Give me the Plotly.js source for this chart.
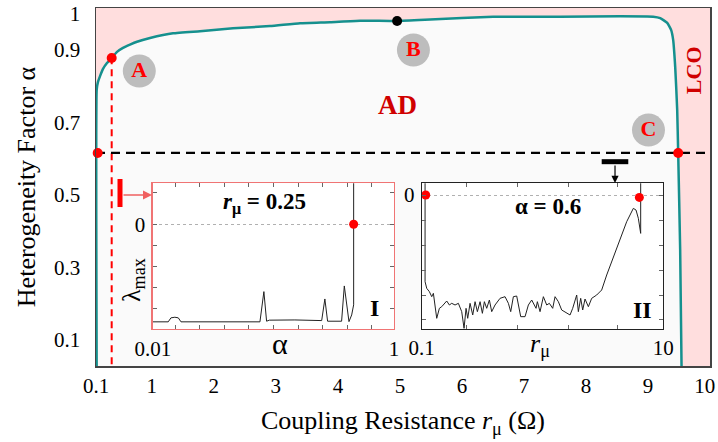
<!DOCTYPE html>
<html><head><meta charset="utf-8">
<script src="https://cdn.plot.ly/plotly-3.0.1.min.js"></script>
<style>html,body{margin:0;padding:0;background:#fff}</style>
</head><body><div id="chart" style="width:718px;height:442px"></div>
<script>
// ---- Main diagram: AD / LCO boundary (coupling resistance r_mu, heterogeneity alpha)
const boundaryR = [0.111, 0.111, 0.132, 0.165, 0.213, 0.277, 0.353, 0.439, 0.535, 0.648, 0.761, 0.971, 1.342, 1.777, 2.310, 2.906, 3.390, 3.874, 4.358, 4.955, 5.487, 6.503, 7.584, 8.552, 9.084, 9.197, 9.310, 9.374, 9.406, 9.439, 9.471, 9.487, 9.519, 9.543];
const boundaryAlpha = [0.0, 0.790, 0.812, 0.828, 0.848, 0.864, 0.878, 0.895, 0.906, 0.915, 0.923, 0.933, 0.946, 0.952, 0.960, 0.966, 0.974, 0.977, 0.981, 0.980, 0.984, 0.992, 0.992, 0.993, 0.992, 0.988, 0.975, 0.955, 0.928, 0.853, 0.735, 0.616, 0.348, 0.0];
const xTickVals = [0.1, 1, 2, 3, 4, 5, 6, 7, 8, 9, 10];
const xTickText = ['0.1', '1', '2', '3', '4', '5', '6', '7', '8', '9', '10\u00a0\u00a0'];
const yTickVals = [0.1, 0.3, 0.5, 0.7, 0.9, 1];
const yTickText = ['0.1', '0.3', '0.5', '0.7', '0.9', '1'];

// cuts
const cutR = [0.353, 0.353];          // r_mu = 0.25 cut (vertical)
const cutRAlpha = [0, 0.878];
const cutAlphaR = [0.1, 10];          // alpha = 0.6 cut (horizontal)
const cutAlpha = [0.616, 0.616];

// special points
const redPointR = [0.353, 0.127, 9.487];
const redPointAlpha = [0.878, 0.616, 0.616];
const blackPointR = [4.955];
const blackPointAlpha = [0.980];
const labelNames = ['A', 'B', 'C'];
const labelR = [0.798, 5.218, 9.008];
const labelAlpha = [0.842, 0.900, 0.679];

// ---- Inset I: lambda_max vs alpha at r_mu = 0.25
const inset1Alpha = [0.01, 0.072, 0.083, 0.099, 0.113, 0.124, 0.445, 0.461, 0.472, 0.483, 0.587, 0.696, 0.709, 0.720, 0.777, 0.788, 0.807, 0.818, 0.826, 0.826];
const inset1Lambda = [-4.65, -4.65, -4.46, -4.43, -4.46, -4.65, -4.65, -3.21, -4.62, -4.57, -4.56, -4.59, -3.56, -4.62, -4.62, -2.94, -4.64, -4.32, -3.84, 2.5];
const inset1DotAlpha = [0.826];
const inset1DotLambda = [0];

// ---- Inset II: lambda_max vs r_mu at alpha = 0.6
const inset2R = [0.1066, 0.1066, 0.1100, 0.1157, 0.1210, 0.1249, 0.1331, 0.1400, 0.1464, 0.1560, 0.1610, 0.1694, 0.1771, 0.1888, 0.2011, 0.2143, 0.2241, 0.2328, 0.2403, 0.2513, 0.2644, 0.2764, 0.2890, 0.3041, 0.3178, 0.3302, 0.3452, 0.3632, 0.3797, 0.4046, 0.4451, 0.4896, 0.5218, 0.5454, 0.5738, 0.6114, 0.6600, 0.7168, 0.7638, 0.8140, 0.8841, 0.9068, 0.9541, 1.0167, 1.0834, 1.1397, 1.2145, 1.2702, 1.3532, 1.4417, 1.5860, 1.6903, 1.7783, 1.8591, 1.9192, 1.9812, 2.0712, 2.1518, 2.2496, 2.3977, 2.5549, 2.8101, 3.0910, 3.4007, 4.1136, 4.9774, 5.6508, 5.9467, 6.2170, 6.5003, 6.5003];
const inset2Lambda = [1.0, -3.467, -3.733, -3.867, -4.067, -3.933, -4.933, -4.533, -4.467, -4.333, -4.24, -4.4, -4.333, -4.4, -4.333, -4.667, -5.333, -4.533, -4.933, -4.333, -4.8, -4.267, -4.667, -4.267, -4.733, -4.267, -4.533, -4.2, -4.667, -4.4, -4.133, -4.067, -4.333, -4.667, -4.067, -4.04, -4.867, -4.867, -4.4, -4.2, -4.533, -4.267, -4.667, -4.067, -4.4, -4.333, -4.533, -4.067, -4.267, -4.6, -4.733, -4.8, -4.533, -4.267, -4.0, -4.667, -4.133, -4.6, -4.16, -4.467, -4.133, -4.0, -3.8, -3.2, -2.133, -1.067, -0.533, -0.6, -0.933, -1.533, 1.0];
const inset2DotR = [0.1079, 6.337];
const inset2DotLambda = [0, -0.093];

const FONT = 'Liberation Serif, Times New Roman, serif';
const TEAL = '#15908e';
const RED = '#ff0000';
const DARKRED = '#d00000';

const traces = [
  {x: boundaryR, y: boundaryAlpha, type: 'scatter', mode: 'lines', fill: 'toself', fillcolor: '#fafafa',
   line: {color: TEAL, width: 2.5, shape: 'spline', smoothing: 0.4}, xaxis: 'x', yaxis: 'y', hoverinfo: 'skip'},
  {x: cutR, y: cutRAlpha, type: 'scatter', mode: 'lines', line: {color: RED, width: 2, dash: '7px,5px'}, xaxis: 'x', yaxis: 'y'},
  {x: cutAlphaR, y: cutAlpha, type: 'scatter', mode: 'lines', line: {color: '#000', width: 2.2, dash: '9px,6px'}, xaxis: 'x', yaxis: 'y'},
  {x: redPointR, y: redPointAlpha, type: 'scatter', mode: 'markers', marker: {color: RED, size: 10}, xaxis: 'x', yaxis: 'y', cliponaxis: false},
  {x: blackPointR, y: blackPointAlpha, type: 'scatter', mode: 'markers', marker: {color: '#000', size: 10}, xaxis: 'x', yaxis: 'y'},
  {x: labelR, y: labelAlpha, text: labelNames.map(s => '<b>' + s + '</b>'), type: 'scatter', mode: 'markers+text',
   marker: {color: '#bdbdbd', size: 33}, textposition: 'middle center', textfont: {family: FONT, size: 22, color: RED}, xaxis: 'x', yaxis: 'y'},
  // Inset I
  {x: inset1Alpha, y: inset1Lambda, type: 'scatter', mode: 'lines', line: {color: '#222', width: 1}, xaxis: 'x2', yaxis: 'y2'},
  {x: inset1DotAlpha, y: inset1DotLambda, type: 'scatter', mode: 'markers', marker: {color: RED, size: 9}, xaxis: 'x2', yaxis: 'y2'},
  // Inset II
  {x: inset2R, y: inset2Lambda, type: 'scatter', mode: 'lines', line: {color: '#222', width: 1}, xaxis: 'x3', yaxis: 'y3'},
  {x: inset2DotR, y: inset2DotLambda, type: 'scatter', mode: 'markers', marker: {color: RED, size: 9}, xaxis: 'x3', yaxis: 'y3', cliponaxis: false}
];

const insetTick = {family: FONT, size: 21, color: '#000'};
const ann = (o) => Object.assign({showarrow: false, xanchor: 'center', yanchor: 'middle'}, o);
const layout = {
  width: 718, height: 442,
  margin: {l: 96, r: 8, t: 8, b: 76},
  paper_bgcolor: '#ffffff', plot_bgcolor: '#ffffff',
  showlegend: false,
  font: {family: FONT, color: '#000'},
  xaxis: {domain: [0, 1], range: [0.1, 10], tickmode: 'array', tickvals: xTickVals, ticktext: xTickText,
    showline: true, mirror: true, linecolor: '#444', linewidth: 1.5, ticks: '', showgrid: false, zeroline: false,
    tickfont: {family: FONT, size: 21}, ticklabelstandoff: 0, ticklabeloverflow: 'allow',
    title: {text: 'Coupling Resistance <i>r</i><sub>μ</sub> (Ω)', font: {family: FONT, size: 26}, standoff: 14}},
  yaxis: {domain: [0, 1], range: [0.028, 1.016], tickmode: 'array', tickvals: yTickVals, ticktext: yTickText,
    showline: true, mirror: true, linecolor: '#444', linewidth: 1.5, ticks: '', showgrid: false, zeroline: false,
    tickfont: {family: FONT, size: 21}, ticklabelstandoff: 10, ticklabeloverflow: 'allow',
    title: {text: 'Heterogeneity Factor α', font: {family: FONT, size: 26}, standoff: 11}},
  xaxis2: {domain: [0.0928, 0.4853], anchor: 'y2', range: [0.01, 0.99], tickmode: 'array', tickvals: [0.01, 0.99], ticktext: ['0.01', '1'],
    showline: true, mirror: 'allticks', linecolor: '#f07474', linewidth: 1.5, ticks: 'inside', ticklen: 0, showgrid: false, zeroline: false,
    tickfont: insetTick, ticklabelstandoff: 0, ticklabeloverflow: 'allow',
    minor: {tickmode: 'array', tickvals: [0.1, 0.2, 0.3, 0.4, 0.5, 0.6, 0.7, 0.8, 0.9], ticks: 'inside', ticklen: 4, tickcolor: '#666', showgrid: false}},
  yaxis2: {domain: [0.1034, 0.5103], anchor: 'x2', range: [-4.99, 1.95], tickmode: 'array', tickvals: [0], ticktext: ['0'],
    showline: true, mirror: 'allticks', linecolor: '#f07474', linewidth: 1.5, ticks: 'inside', ticklen: 4, tickcolor: '#666',
    showgrid: true, gridcolor: '#b0b0b0', griddash: 'dot', gridwidth: 1, zeroline: false,
    tickfont: insetTick, ticklabelstandoff: 2, ticklabeloverflow: 'allow',
    minor: {tickmode: 'array', tickvals: [-4, -3, -2, -1, 1.5], ticks: 'inside', ticklen: 4, tickcolor: '#666', showgrid: false}},
  xaxis3: {domain: [0.5305, 0.9239], anchor: 'y3', type: 'log', range: [-1, 1], tickmode: 'array', tickvals: [0.1, 10], ticktext: ['0.1', '10'],
    showline: true, mirror: 'allticks', linecolor: '#222', linewidth: 1, ticks: 'inside', ticklen: 0, showgrid: false, zeroline: false,
    tickfont: insetTick, ticklabelstandoff: 0, ticklabeloverflow: 'allow',
    minor: {tickmode: 'array', tickvals: [0.237, 0.615, 1.63, 4.14], ticks: 'inside', ticklen: 4, tickcolor: '#666', showgrid: false}},
  yaxis3: {domain: [0.1034, 0.5103], anchor: 'x3', range: [-5.36, 0.47], tickmode: 'array', tickvals: [0], ticktext: ['0'],
    showline: true, mirror: 'allticks', linecolor: '#222', linewidth: 1, ticks: 'inside', ticklen: 4, tickcolor: '#666',
    showgrid: true, gridcolor: '#b0b0b0', griddash: 'dot', gridwidth: 1, zeroline: false,
    tickfont: insetTick, ticklabelstandoff: 2, ticklabeloverflow: 'allow',
    minor: {tickmode: 'array', tickvals: [-1, -2, -3, -4, -5], ticks: 'inside', ticklen: 4, tickcolor: '#666', showgrid: false}},
  shapes: [
    {type: 'rect', xref: 'paper', yref: 'paper', x0: 0, x1: 1, y0: 0, y1: 1, fillcolor: '#ffdede', line: {width: 0}, layer: 'below'},
    {type: 'line', xref: 'paper', yref: 'paper', x0: 0.0391, x1: 0.0391, y0: 0.4441, y1: 0.5223, line: {color: RED, width: 5}},
    {type: 'line', xref: 'paper', yref: 'paper', x0: 0.8236, x1: 0.8669, y0: 0.5707, y1: 0.5707, line: {color: '#000', width: 5}}
  ],
  annotations: [
    {xref: 'paper', yref: 'paper', x: 0.0912, y: 0.4777, ax: -30, ay: 0, text: '', showarrow: true, arrowhead: 2, arrowsize: 1.2, arrowwidth: 1.5, arrowcolor: '#f06060'},
    {xref: 'paper', yref: 'paper', x: 0.8453, y: 0.5112, ax: 0, ay: -19, text: '', showarrow: true, arrowhead: 2, arrowsize: 1.2, arrowwidth: 1.2, arrowcolor: '#000'},
    ann({xref: 'x', yref: 'y', x: 4.955, y: 0.748, text: '<b>AD</b>', font: {family: FONT, size: 27, color: DARKRED}}),
    ann({xref: 'x', yref: 'y', x: 9.745, y: 0.845, text: '<b>LCO</b>', textangle: -90, font: {family: FONT, size: 22, color: DARKRED}}),
    ann({xref: 'x2', yref: 'y2', x: 0.465, y: 1.01, text: '<b><i>r</i><sub>μ</sub> = 0.25</b>', font: {family: FONT, size: 23}}),
    ann({xref: 'x2', yref: 'y2', x: 0.912, y: -3.99, text: '<b>I</b>', font: {family: FONT, size: 24}}),
    ann({xref: 'x3', yref: 'y3', x: 0.0455, y: -0.47, text: '<b>α = 0.6</b>', font: {family: FONT, size: 23}}),
    ann({xref: 'x3', yref: 'y3', x: 0.8295, y: -4.6, text: '<b>II</b>', font: {family: FONT, size: 24}}),
    ann({xref: 'x2', yref: 'paper', x: 0.526, y: 0.0642, text: 'α', font: {family: FONT, size: 30}}),
    ann({xref: 'x3', yref: 'paper', x: -0.0207, y: 0.058, text: '<i>r</i><sub>μ</sub>', font: {family: FONT, size: 26}}),
    ann({xref: 'paper', yref: 'paper', x: 0.0603, y: 0.2402, text: 'λ<sub>max</sub>', textangle: -90, font: {family: FONT, size: 26}})
  ]
};

Plotly.newPlot('chart', traces, layout, {displayModeBar: false, staticPlot: true});
</script>
</body></html>
